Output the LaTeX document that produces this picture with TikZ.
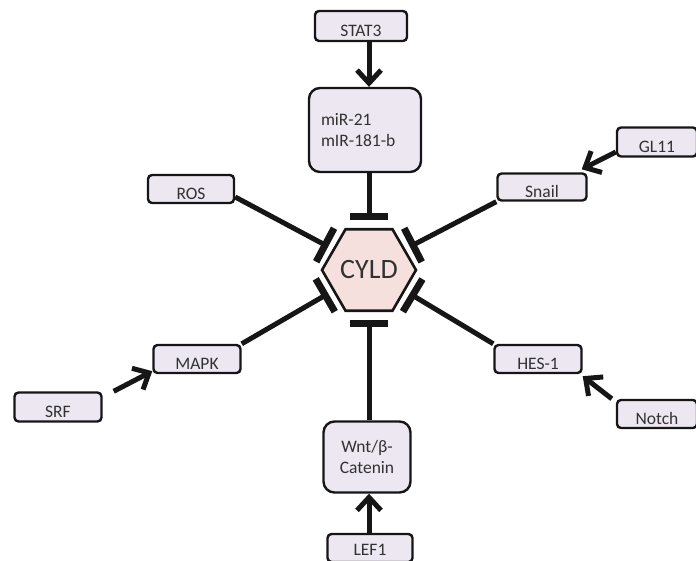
\documentclass[tikz,border=0pt]{standalone}
\usepackage{fontspec}
\setmainfont{Carlito}
\usetikzlibrary{arrows.meta,shapes.geometric}
\definecolor{boxfill}{RGB}{236,231,240}
\definecolor{hexfill}{RGB}{245,224,221}
\definecolor{ink}{RGB}{22,22,22}
\definecolor{txt}{RGB}{50,50,50}
\begin{document}
\begin{tikzpicture}[x=1pt,y=-1pt,
  basebox/.style={draw=ink, line width=2.4pt, fill=boxfill, inner sep=0pt,
    font=\fontsize{17.5}{21}\selectfont, text=txt},
  smallbox/.style={basebox, rounded corners=4pt, minimum width=87pt, minimum height=28pt,
    text height=20pt, text depth=0pt},
  bigbox/.style={basebox, rounded corners=11pt},
  act/.style={draw=ink, line width=5pt, -{Straight Barb[length=13pt,width=24pt]}},
  inh/.style={draw=ink, line width=5pt, -{Bar[width=38pt,line width=7pt]}, shorten >=8pt},
]
\useasboundingbox (0,0) rectangle (696,560);
\clip (0,0) rectangle (696,560);

\node[regular polygon, regular polygon sides=6, minimum size=91pt, inner sep=0pt,
      draw=ink, line width=2.6pt, fill=hexfill, text=txt,
      font=\fontsize{28}{30}\selectfont] (cyld) at (369,270) {CYLD};

\node[smallbox, minimum width=92pt, minimum height=30pt] (stat3) at (361,26) {STAT3};
\node[bigbox, minimum width=112pt, minimum height=84pt, text width=88pt, align=left] (mir) at (365,130) {miR-21\\mIR-181-b};
\node[smallbox, minimum width=80pt, minimum height=29pt] (gl) at (657,142) {GL11};
\node[smallbox, minimum width=89pt, minimum height=27pt] (snail) at (542,187) {Snail};
\node[smallbox, minimum width=86pt] (ros) at (191,189) {ROS};
\node[smallbox] (mapk) at (197,359) {MAPK};
\node[smallbox] (hes) at (538,359) {HES-1};
\node[smallbox, minimum height=29pt] (srf) at (58,407) {SRF};
\node[smallbox, minimum width=80pt] (notch) at (657,414) {Notch};
\node[bigbox, minimum width=87pt, minimum height=71pt, align=center] (wnt) at (367,457) {Wnt/β-\\Catenin};
\node[smallbox, minimum width=85pt, text height=14pt] (lef) at (370,548) {LEF1};

% activations
\draw[act] (stat3.south -| cyld.north) -- (mir.north -| cyld.north);
\draw[act] ([yshift=-10pt]gl.west) -- ([xshift=-6pt,yshift=3pt]snail.north east);
\draw[act] ([xshift=11pt]srf.north east) -- ([yshift=3pt]mapk.south west);
\draw[act] ([xshift=-4pt]notch.north west) -- ([yshift=-2pt]hes.south east);
\draw[act] (lef.north -| cyld.south) -- (wnt.south -| cyld.south);

% inhibitions
\draw[inh] (mir.south -| cyld.north) -- (cyld.north);
\draw[inh] (wnt.north -| cyld.south) -- (cyld.south);
\draw[inh, shorten >=5pt] ([yshift=-8pt]ros.east) -- (cyld.150);
\draw[inh, shorten >=5pt] (snail.south west) -- (cyld.30);
\draw[inh, shorten >=5pt] (mapk.north east) -- (cyld.210);
\draw[inh, shorten >=5pt] (hes.north west) -- (cyld.330);
\end{tikzpicture}
\end{document}
